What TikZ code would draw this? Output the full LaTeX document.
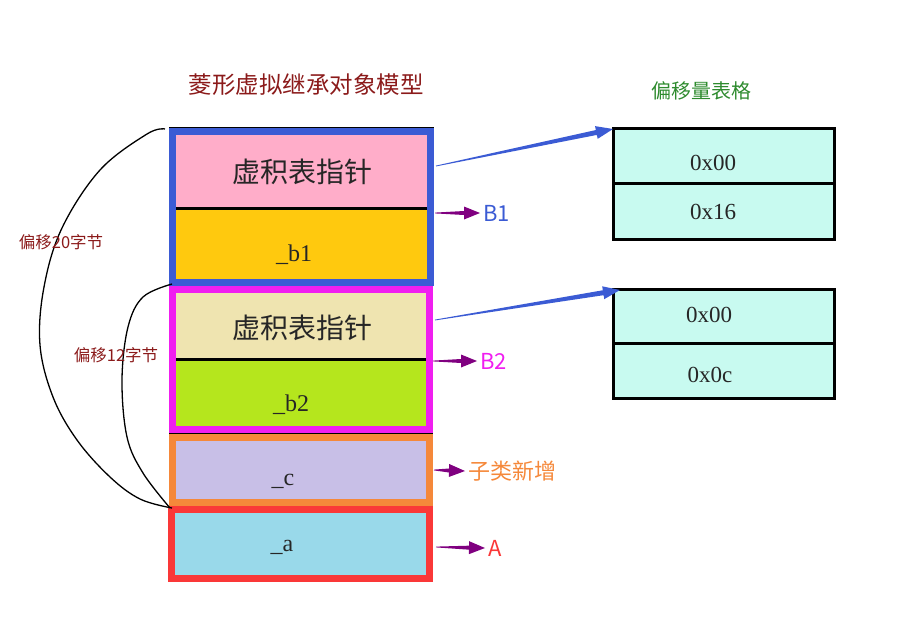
\documentclass[tikz,border=0pt]{standalone}
\usepackage{fontspec}
\setmainfont{Liberation Serif}
\newfontfamily\cjk{Noto Sans CJK SC}
\usetikzlibrary{calc}

\definecolor{bordblue}{RGB}{59,91,212}
\definecolor{cellpink}{RGB}{255,173,201}
\definecolor{cellyellow}{RGB}{255,201,14}
\definecolor{bordmag}{RGB}{240,30,240}
\definecolor{cellbeige}{RGB}{239,228,176}
\definecolor{celllime}{RGB}{181,230,29}
\definecolor{bordorange}{RGB}{245,136,58}
\definecolor{celllav}{RGB}{200,191,231}
\definecolor{bordred}{RGB}{250,56,56}
\definecolor{cellcyan}{RGB}{153,217,234}
\definecolor{cellmint}{RGB}{200,250,240}
\definecolor{arrpurple}{RGB}{128,0,128}
\definecolor{titlered}{RGB}{139,26,26}
\definecolor{titlegreen}{RGB}{46,139,46}

% tapered arrow: start, tip, colour, shaft half-width, head length, head half-width
\newcommand{\wedgearrow}[6]{%
  \coordinate (hb) at ($(#2)!#5!(#1)$);
  \fill[#3] ($(#1)!0.4pt!90:(#2)$) -- ($(hb)!#4!90:(#2)$) -- ($(hb)!#6!90:(#2)$)
    -- (#2) -- ($(hb)!#6!-90:(#2)$) -- ($(hb)!#4!-90:(#2)$) -- ($(#1)!0.4pt!-90:(#2)$) -- cycle;
}

\tikzset{
  box/.style={inner sep=0pt, outer sep=0pt, anchor=north west, draw=none},
  tcell/.style={box, fill=cellmint, draw=black, line width=3pt, minimum width=221pt},
  bigcjk/.style={font=\cjk\fontsize{28}{28}\selectfont, text=black!85},
  field/.style={font=\fontsize{24}{24}\selectfont, text=black!85},
  hexval/.style={font=\fontsize{23}{23}\selectfont, text=black!85},
  tag/.style={font=\cjk\fontsize{22}{22}\selectfont},
  offs/.style={font=\cjk\fontsize{16.5}{16.5}\selectfont, text=titlered},
  offcurve/.style={line width=1.3pt, black}
}

\begin{document}
\begin{tikzpicture}[x=1pt,y=-1pt]
\useasboundingbox (0,0) rectangle (918,627);

% titles
\node[font=\cjk\fontsize{23.5}{23.5}\selectfont, text=titlered] (title) at (306,85) {菱形虚拟继承对象模型};
\node[font=\cjk\fontsize{20}{20}\selectfont, text=titlegreen] (ttitle) at (701,91) {偏移量表格};

% B1 sub-object
\node[box, fill=bordblue, minimum width=265pt, minimum height=159pt] (b1out) at (169,127) {};
\node[box, fill=cellpink, minimum width=251pt, minimum height=73pt] (vp1) at (176,135) {};
\node[box, fill=cellyellow, minimum width=251pt, minimum height=71pt] (b1f) at (176,208) {};
\draw[line width=3pt] (vp1.south west) -- (vp1.south east);
\draw[line width=1pt] (b1out.north west) -- (b1out.north east);
\node[bigcjk] (vp1t) at (302,172) {虚积表指针};
\node[field] (b1t) at (294,255) {\_b1};

% B2 sub-object
\node[box, fill=bordmag, minimum width=264pt, minimum height=147pt] (b2out) at (169,286) {};
\node[box, fill=cellbeige, minimum width=250pt, minimum height=66pt] (vp2) at (176,293) {};
\node[box, fill=celllime, minimum width=250pt, minimum height=67pt] (b2f) at (176,359) {};
\draw[line width=3pt] (vp2.south west) -- (vp2.south east);
\node[bigcjk] (vp2t) at (302,328) {虚积表指针};
\node[field] (b2t) at (291,405) {\_b2};

% derived-class member
\node[box, fill=bordorange, minimum width=264pt, minimum height=73pt] (cout) at (169,433) {};
\node[box, fill=celllav, minimum width=250pt, minimum height=58pt] (cf) at (176,441) {};
\draw[line width=1pt] (cout.north west) -- (cout.north east);
\node[field] (ct) at (283,481) {\_c};

% A sub-object
\node[box, fill=bordred, minimum width=265pt, minimum height=76pt] (aout) at (168,506) {};
\node[box, fill=cellcyan, minimum width=251pt, minimum height=62pt] (af) at (175,513) {};
\node[field] (at) at (282,547) {\_a};

% offset tables
\node[tcell, minimum height=55pt] (t1a) at (613,128) {};
\node[tcell, minimum height=56pt] (t1b) at (613,183) {};
\node[hexval] (t1at) at (713,163) {0x00};
\node[hexval] (t1bt) at (713,212) {0x16};

\node[tcell, minimum height=54pt] (t2a) at (613,289) {};
\node[tcell, minimum height=55pt] (t2b) at (613,343) {};
\node[hexval] (t2at) at (709,315) {0x00};
\node[hexval] (t2bt) at (710,375) {0x0c};

% side labels
\node[tag, text=bordblue, anchor=west] (lb1) at (480,213) {B1};
\node[tag, text=bordmag, anchor=west] (lb2) at (477,361) {B2};
\node[tag, text=bordorange, anchor=west] (lc) at (465,471) {子类新增};
\node[tag, text=bordred, anchor=west] (la) at (485,548) {A};

% pointer arrows to the tables
\coordinate (p1) at (436,166);
\coordinate (p2) at (435,320);
\coordinate (q1) at ($(t1a.north west)+(0,1)$);
\coordinate (q2) at ($(t2a.north west)+(7,1)$);
\wedgearrow{p1}{q1}{bordblue}{2.5pt}{17pt}{6.5pt}
\wedgearrow{p2}{q2}{bordblue}{2.5pt}{17pt}{6.5pt}

% arrows to the side labels
\coordinate (s1) at (435,213);
\coordinate (s2) at (433,361);
\coordinate (s3) at (434,470);
\coordinate (s4) at (436,547);
\wedgearrow{s1}{lb1.west}{arrpurple}{2pt}{16pt}{6.5pt}
\wedgearrow{s2}{lb2.west}{arrpurple}{2pt}{16pt}{6.5pt}
\wedgearrow{s3}{lc.west}{arrpurple}{2pt}{16pt}{6.5pt}
\wedgearrow{s4}{la.west}{arrpurple}{2pt}{16pt}{6.5pt}

% offset braces
\draw[offcurve] plot[smooth, tension=0.6] coordinates {(165,129) (147,134) (100,170) (62,228) (44,287) (40,345) (53,397) (77,440) (110,477) (140,499) (172,508)};
\draw[offcurve] plot[smooth, tension=0.6] coordinates {(172,284) (143,297) (128,327) (122,380) (127,437) (143,473) (170,508)};
\node[offs] (o20) at (61,242) {偏移20字节};
\node[offs] (o12) at (116,355) {偏移12字节};
\end{tikzpicture}
\end{document}
